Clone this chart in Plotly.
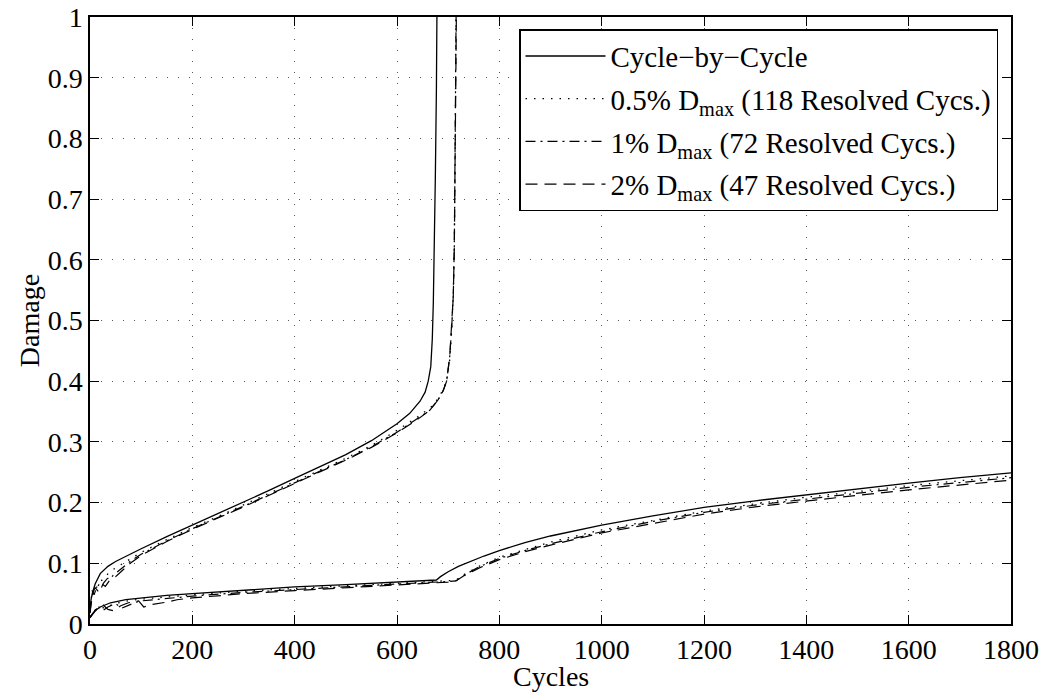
import plotly.graph_objects as go

# ---------------- data ----------------
# Upper curves (first component, fails ~680 / ~715 cycles)
cyc_up_cbc = [0, 2, 5, 10, 20, 35, 50, 75, 100, 150, 200, 250, 300, 350, 400, 450, 500, 550, 600,
              625, 645, 655, 661, 666, 669, 671, 673, 675, 677, 678]
dmg_up_cbc = [0.023, 0.040, 0.052, 0.066, 0.083, 0.095, 0.103, 0.114, 0.124, 0.144, 0.163, 0.182,
              0.200, 0.220, 0.240, 0.259, 0.279, 0.302, 0.330, 0.347, 0.367, 0.382, 0.400, 0.424,
              0.470, 0.530, 0.620, 0.740, 0.880, 1.000]

cyc_up_05 = [0, 3, 8, 15, 25, 40, 55, 80, 100, 150, 200, 250, 300, 350, 400, 450, 500, 550, 600,
             640, 665, 680, 690, 697, 703, 707, 710, 712, 714, 715]
dmg_up_05 = [0.020, 0.046, 0.052, 0.064, 0.074, 0.087, 0.095, 0.108, 0.118, 0.139, 0.159, 0.177,
             0.196, 0.215, 0.235, 0.254, 0.273, 0.294, 0.319, 0.341, 0.356, 0.371, 0.386, 0.401,
             0.435, 0.485, 0.545, 0.630, 0.790, 1.000]

cyc_up_1 = [0, 4, 8, 12, 20, 30, 45, 60, 80, 100, 150, 200, 250, 300, 350, 400, 450, 500, 550, 600,
            640, 664, 680, 690, 697, 703, 707, 710, 712, 714, 715.5]
dmg_up_1 = [0.018, 0.055, 0.048, 0.058, 0.068, 0.062, 0.080, 0.090, 0.104, 0.115, 0.137, 0.157,
            0.175, 0.194, 0.213, 0.233, 0.252, 0.271, 0.292, 0.316, 0.338, 0.352, 0.369, 0.384,
            0.400, 0.440, 0.490, 0.540, 0.620, 0.780, 1.000]

cyc_up_2 = [0, 5, 10, 18, 26, 34, 50, 65, 80, 100, 150, 200, 250, 300, 350, 400, 450, 500, 550, 600,
            640, 664, 680, 690, 697, 703, 707, 710, 712, 714, 716]
dmg_up_2 = [0.018, 0.050, 0.060, 0.052, 0.067, 0.075, 0.078, 0.090, 0.101, 0.113, 0.136, 0.156,
            0.174, 0.193, 0.212, 0.232, 0.251, 0.270, 0.291, 0.315, 0.337, 0.352, 0.369, 0.384,
            0.400, 0.440, 0.490, 0.540, 0.620, 0.780, 1.000]

# Lower curves (second component)
cyc_lo_cbc = [0, 5, 10, 20, 40, 70, 100, 150, 200, 300, 400, 500, 600, 650, 677, 685, 700, 720, 740,
              770, 800, 850, 900, 1000, 1100, 1200, 1300, 1400, 1500, 1600, 1700, 1800]
dmg_lo_cbc = [0.012, 0.018, 0.022, 0.028, 0.035, 0.040, 0.043, 0.047, 0.050, 0.056, 0.061, 0.065,
              0.069, 0.071, 0.0725, 0.078, 0.086, 0.095, 0.102, 0.112, 0.121, 0.134, 0.145, 0.163,
              0.178, 0.192, 0.203, 0.213, 0.223, 0.232, 0.241, 0.249]

cyc_lo_05 = [0, 10, 20, 30, 45, 60, 80, 100, 150, 200, 300, 400, 500, 600, 700, 715, 730, 760, 800,
             850, 900, 1000, 1100, 1200, 1300, 1400, 1500, 1600, 1700, 1800]
dmg_lo_05 = [0.011, 0.022, 0.028, 0.026, 0.033, 0.036, 0.039, 0.041, 0.045, 0.048, 0.054, 0.059,
             0.063, 0.067, 0.071, 0.072, 0.081, 0.095, 0.110, 0.123, 0.135, 0.155, 0.171, 0.186,
             0.198, 0.209, 0.218, 0.228, 0.236, 0.244]

cyc_lo_1 = [0, 8, 15, 25, 35, 50, 62, 75, 90, 100, 150, 200, 300, 400, 500, 600, 700, 715, 730, 760,
            800, 850, 900, 1000, 1100, 1200, 1300, 1400, 1500, 1600, 1700, 1800]
dmg_lo_1 = [0.011, 0.020, 0.030, 0.022, 0.028, 0.034, 0.026, 0.031, 0.036, 0.038, 0.042, 0.046,
            0.052, 0.057, 0.062, 0.066, 0.070, 0.071, 0.080, 0.094, 0.108, 0.121, 0.132, 0.152,
            0.169, 0.184, 0.196, 0.206, 0.215, 0.225, 0.233, 0.241]

cyc_lo_2 = [0, 8, 15, 25, 35, 45, 60, 75, 95, 105, 120, 150, 170, 200, 300, 400, 500, 600, 700, 715,
            730, 760, 800, 850, 900, 1000, 1100, 1200, 1300, 1400, 1500, 1600, 1700, 1800]
dmg_lo_2 = [0.010, 0.020, 0.027, 0.032, 0.024, 0.022, 0.030, 0.035, 0.038, 0.028, 0.032, 0.036,
            0.040, 0.043, 0.050, 0.055, 0.060, 0.064, 0.069, 0.071, 0.079, 0.092, 0.106, 0.119,
            0.130, 0.150, 0.166, 0.181, 0.193, 0.203, 0.212, 0.221, 0.229, 0.237]

series_names = ["Cycle\u2212by\u2212Cycle",
                "0.5% D<sub>max</sub> (118 Resolved Cycs.)",
                "1% D<sub>max</sub> (72 Resolved Cycs.)",
                "2% D<sub>max</sub> (47 Resolved Cycs.)"]

x_ticks = [0, 200, 400, 600, 800, 1000, 1200, 1400, 1600, 1800]
y_ticks = [0, 0.1, 0.2, 0.3, 0.4, 0.5, 0.6, 0.7, 0.8, 0.9, 1]
x_title = "Cycles"
y_title = "Damage"

# ---------------- figure ----------------
FONT = "Liberation Serif"
dashes = ["solid", "1.5px,7px", "10px,5px,2px,5px", "12px,7px"]
widths = [1.3, 1.3, 1.2, 1.2]

uppers = [(cyc_up_cbc, dmg_up_cbc), (cyc_up_05, dmg_up_05), (cyc_up_1, dmg_up_1), (cyc_up_2, dmg_up_2)]
lowers = [(cyc_lo_cbc, dmg_lo_cbc), (cyc_lo_05, dmg_lo_05), (cyc_lo_1, dmg_lo_1), (cyc_lo_2, dmg_lo_2)]

fig = go.Figure()
for i, name in enumerate(series_names):
    line = dict(color="black", width=widths[i], dash=dashes[i])
    fig.add_trace(go.Scatter(x=uppers[i][0], y=uppers[i][1], mode="lines", name=name,
                             legendgroup=str(i), line=line))
    fig.add_trace(go.Scatter(x=lowers[i][0], y=lowers[i][1], mode="lines", name=name,
                             legendgroup=str(i), showlegend=False, line=line))

axis_common = dict(
    showline=True, linecolor="black", linewidth=1.5, mirror="allticks",
    ticks="inside", ticklen=9, tickwidth=1, tickcolor="black",
    showgrid=True, gridcolor="#555555", gridwidth=1, griddash="1px,10px",
    zeroline=False, automargin=False,
    tickfont=dict(family=FONT, size=28, color="black"),
)

fig.update_xaxes(range=[0, 1800], tickvals=x_ticks, **axis_common)
fig.update_yaxes(range=[0, 1], tickvals=y_ticks,
                 title=dict(text=y_title, font=dict(family=FONT, size=28, color="black"), standoff=0),
                 **axis_common)

fig.add_annotation(text=x_title, xref="paper", yref="paper", x=0.5, y=-0.086,
                   xanchor="center", yanchor="middle", showarrow=False,
                   font=dict(family=FONT, size=28, color="black"))

fig.update_layout(
    width=1047, height=696,
    margin=dict(l=90, r=36, t=17, b=72),
    paper_bgcolor="white", plot_bgcolor="white",
    font=dict(family=FONT, size=28, color="black"),
    showlegend=True,
    legend=dict(x=0.4658, y=0.980, xanchor="left", yanchor="top",
                bgcolor="white", bordercolor="black", borderwidth=1.5,
                font=dict(family=FONT, size=29, color="black"),
                itemwidth=80, tracegroupgap=2),
)

fig.write_html("out.html")
